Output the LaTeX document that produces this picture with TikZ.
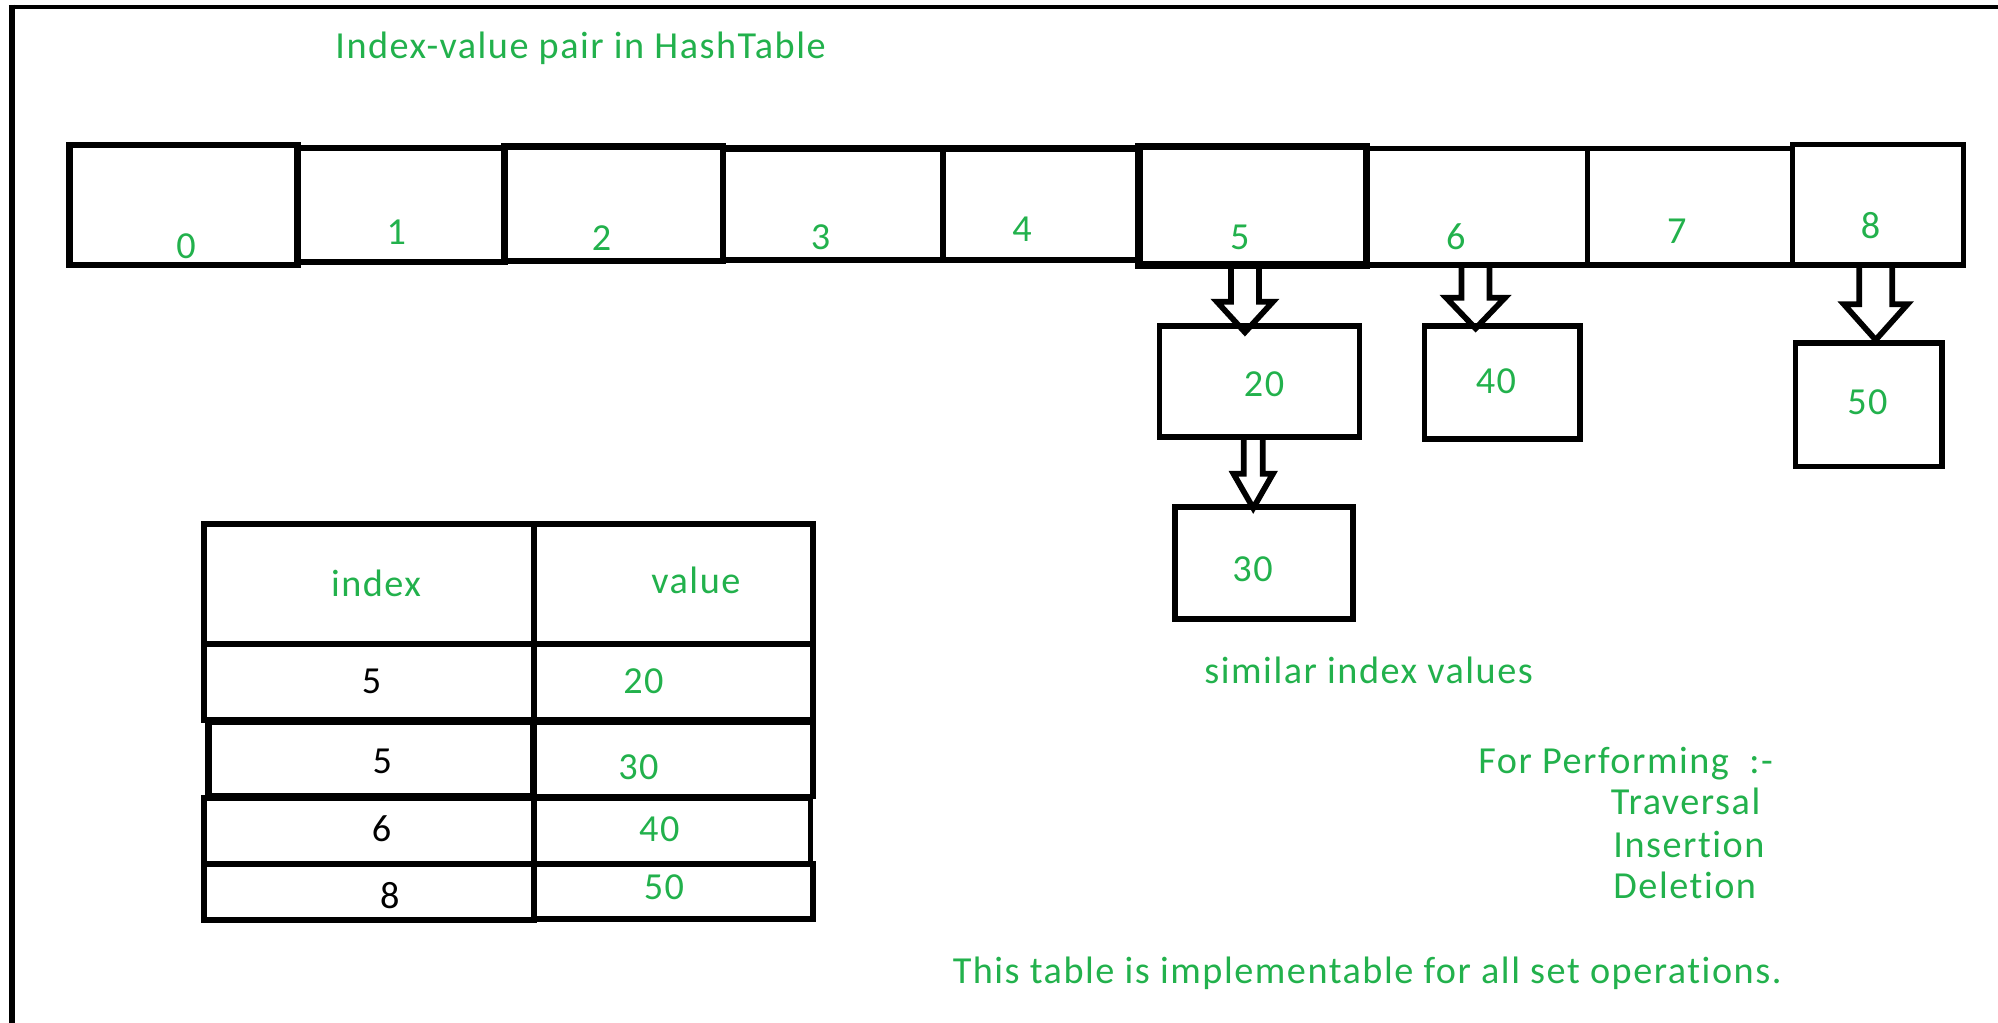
\documentclass[tikz,border=0pt]{standalone}
\usepackage{fontspec}
\setmainfont[LetterSpace=4, Ligatures={NoCommon}]{Carlito}
\usetikzlibrary{fit,calc}
\definecolor{paintgreen}{RGB}{34,177,76}

% hollow block arrow pointing down from #2 to #3 at horizontal position #1
% #4 overlap of the tip into the target, #5 shaft half width,
% #6 head half width, #7 head length
\newcommand\hollowarrow[7]{%
  \draw[arrowline] let \p1=(#2.south), \p2=(#3.north) in
    (#1pt-#5pt,\y1) -- (#1pt-#5pt,\y2-#4pt+#7pt) -- (#1pt-#6pt,\y2-#4pt+#7pt)
    -- (#1pt,\y2-#4pt) -- (#1pt+#6pt,\y2-#4pt+#7pt) -- (#1pt+#5pt,\y2-#4pt+#7pt)
    -- (#1pt+#5pt,\y1);}

\tikzset{
  slot/.style={draw=black, inner sep=0pt, fill=none},
  txt/.style={text=paintgreen, inner sep=0pt},
  blk/.style={text=black, inner sep=0pt},
  arrowline/.style={draw=black, line width=4.5pt, line join=miter},
  grid/.style={draw=black, inner sep=0pt, line width=4.5pt},
}

\begin{document}
\begin{tikzpicture}[x=1pt, y=-1pt, font=\fontsize{30}{36}\selectfont]
\useasboundingbox (0,0) rectangle (1568,802.8);

% outer frame (left and top edges)
\draw[line width=3.5pt] (7,5.5) -- (1580,5.5);
\draw[line width=4.7pt] (9.4,3.7) -- (9.4,815);

% title
\node[txt, anchor=base west] (title) at (263,46) {Index-value pair in HashTable};

% hash table slots
\node[slot, line width=5pt, fit={(54.5,114) (233.5,208)}] (c0) {};
\node[slot, line width=5pt, fit={(233.5,116) (396,205.5)}] (c1) {};
\node[slot, line width=5pt, fit={(396,115) (567.5,205)}] (c2) {};
\node[slot, line width=5pt, fit={(567.5,116.5) (740,204)}] (c3) {};
\node[slot, line width=5pt, fit={(740,116.5) (894,204)}] (c4) {};
\node[slot, line width=6pt, fit={(894,115) (1072.5,208)}] (c5) {};
\node[slot, line width=4pt, fit={(1072.5,116.5) (1245.5,208)}] (c6) {};
\node[slot, line width=4pt, fit={(1245.5,116.5) (1406.5,208)}] (c7) {};
\node[slot, line width=4pt, fit={(1406.5,113.5) (1541,208)}] (c8) {};

% slot indices
\node[txt, anchor=base] (l0) at (146,202.5) {0};
\node[txt, anchor=base] (l1) at (311,192) {1};
\node[txt, anchor=base] (l2) at (472,196.5) {2};
\node[txt, anchor=base] (l3) at (644,196) {3};
\node[txt, anchor=base] (l4) at (802,189.5) {4};
\node[txt, anchor=base] (l5) at (973,195.5) {5};
\node[txt, anchor=base] (l6) at (1142.5,196) {6};
\node[txt, anchor=base] (l7) at (1316,191) {7};
\node[txt, anchor=base] (l8) at (1468,187.5) {8};

% chained value boxes
\node[slot, line width=4.5pt, fit={(910,256) (1067,343)}] (b20) {};
\node[slot, line width=4.5pt, fit={(922,398) (1062,486)}] (b30) {};
\node[slot, line width=4.5pt, fit={(1118,256) (1240,344.5)}] (b40) {};
\node[slot, line width=4.5pt, fit={(1409,269) (1524,366)}] (b50) {};

\node[txt, anchor=base] (v20) at (992,311.5) {20};
\node[txt, anchor=base] (v30) at (983,456) {30};
\node[txt, anchor=base] (v40) at (1174,309) {40};
\node[txt, anchor=base] (v50) at (1465.5,325) {50};

% links
\hollowarrow{977}{c5}{b20}{7}{11}{22}{24}
\hollowarrow{1158}{c6}{b40}{4}{11}{23}{24}
\hollowarrow{1472}{c8}{b50}{0}{13}{25}{28}
\hollowarrow{983.5}{b20}{b30}{3}{7.5}{15.5}{27}

\node[txt, anchor=base west] (similar) at (945,536.5) {similar index values};

% index / value table
\node[grid, fit={(160,411.5) (419,505.5)}] (th1) {};
\node[grid, fit={(419,411.5) (638,505.5)}] (th2) {};
\node[grid, fit={(160,505.5) (419,565)}] (ta1) {};
\node[grid, fit={(419,505.5) (638,565)}] (tb1) {};
\node[grid, line width=5.5pt, fit={(164,566.5) (419,625)}] (ta2) {};
\node[grid, fit={(419,566.5) (638,625)}] (tb2) {};
\node[grid, fit={(160,626) (419,678)}] (ta3) {};
\node[grid, fit={(419,626) (636,678)}] (tb3) {};
\node[grid, fit={(160,678) (419,722)}] (ta4) {};
\node[grid, fit={(419,678) (638,721)}] (tb4) {};

\node[txt, anchor=base west] (hidx) at (259.6,468.3) {index};
\node[txt, anchor=base west] (hval) at (511,466) {value};
\node[blk, anchor=base] (i1) at (291.5,544) {5};
\node[txt, anchor=base west] (w1) at (489,544) {20};
\node[blk, anchor=base] (i2) at (300,607) {5};
\node[txt, anchor=base west] (w2) at (485,612) {30};
\node[blk, anchor=base] (i3) at (299.5,660.5) {6};
\node[txt, anchor=base west] (w3) at (501.4,660.5) {40};
\node[blk, anchor=base] (i4) at (306,713) {8};
\node[txt, anchor=base west] (w4) at (505,706) {50};

% notes
\node[txt, anchor=base west] (perf) at (1160,607) {For Performing~ :-};
\node[txt, anchor=base west] (trav) at (1264,639.5) {Traversal};
\node[txt, anchor=base west] (ins) at (1266,673) {Insertion};
\node[txt, anchor=base west] (del) at (1266,705) {Deletion};
\node[txt, anchor=base west] (note) at (747.5,771.5) {This table is implementable for all set operations.};
\end{tikzpicture}
\end{document}
